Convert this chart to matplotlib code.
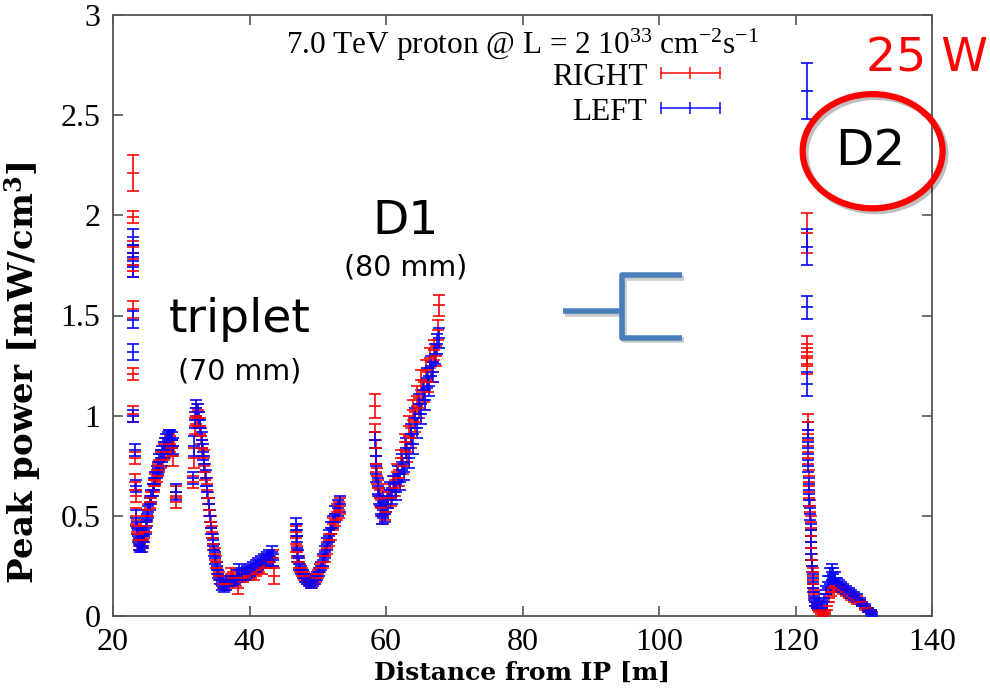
import matplotlib
matplotlib.use("Agg")
import matplotlib.pyplot as plt
from matplotlib.patches import Ellipse
import matplotlib.patheffects as pe

# ---------------- data ----------------
# RIGHT (red)
R_ISO_X = [22.9, 22.9, 22.9, 22.9, 22.9, 22.9, 22.9, 23.0, 23.2, 23.2, 23.3]
R_ISO_Y = [2.21, 1.99, 1.84, 1.78, 1.72, 1.53, 1.21, 1.01, 0.79, 0.67, 0.60]
R_ISO_E = [0.09, 0.03, 0.03, 0.03, 0.03, 0.04, 0.03, 0.04, 0.03, 0.04, 0.03]

R_Q1_X = [23.4, 23.5, 23.6, 23.8, 24.0, 24.2, 24.4, 24.6, 24.8, 25.0, 25.2, 25.4, 25.6, 25.8,
          26.0, 26.2, 26.4, 26.6, 26.8, 27.0, 27.2, 27.4, 27.6, 27.8, 28.0, 28.2, 28.4, 28.6,
          28.8, 29.3, 29.3]
R_Q1_Y = [0.50, 0.45, 0.41, 0.38, 0.36, 0.37, 0.38, 0.42, 0.45, 0.50, 0.53, 0.57, 0.59, 0.63,
          0.65, 0.68, 0.70, 0.73, 0.75, 0.78, 0.79, 0.82, 0.83, 0.85, 0.85, 0.87, 0.86, 0.84,
          0.80, 0.57, 0.62]
R_Q1_E = [0.04, 0.03, 0.03, 0.03, 0.03, 0.03, 0.03, 0.03, 0.03, 0.03, 0.03, 0.03, 0.03, 0.03,
          0.03, 0.03, 0.03, 0.03, 0.03, 0.04, 0.04, 0.04, 0.04, 0.04, 0.04, 0.04, 0.04, 0.04,
          0.05, 0.03, 0.03]

R_Q2_X = [31.7, 31.8, 32.0, 32.1, 32.3, 32.5, 32.7, 32.9, 33.1, 33.3, 33.5, 33.7, 33.9, 34.1,
          34.3, 34.5, 34.7, 34.9, 35.1, 35.3, 35.5, 35.8, 36.1, 36.4, 36.7, 37.0, 37.3, 37.6,
          38.0, 38.3, 38.6, 39.0, 39.4, 39.8, 40.2, 40.6, 41.0, 41.4, 41.8, 42.2, 42.6, 43.0,
          43.4, 43.6]
R_Q2_Y = [0.67, 0.79, 0.95, 1.00, 1.02, 0.99, 0.95, 0.90, 0.84, 0.79, 0.72, 0.66, 0.59, 0.53,
          0.47, 0.42, 0.36, 0.31, 0.27, 0.24, 0.20, 0.18, 0.16, 0.15, 0.16, 0.18, 0.21, 0.19,
          0.17, 0.14, 0.20, 0.19, 0.20, 0.21, 0.22, 0.21, 0.23, 0.25, 0.24, 0.27, 0.28, 0.27,
          0.29, 0.20]
R_Q2_E = [0.03, 0.05, 0.04, 0.04, 0.04, 0.04, 0.04, 0.04, 0.04, 0.04, 0.04, 0.03, 0.03, 0.03,
          0.03, 0.03, 0.03, 0.03, 0.03, 0.03, 0.02, 0.02, 0.02, 0.02, 0.02, 0.02, 0.03, 0.03,
          0.02, 0.03, 0.03, 0.02, 0.02, 0.03, 0.03, 0.03, 0.03, 0.03, 0.03, 0.03, 0.03, 0.03,
          0.04, 0.04]

R_Q3_X = [46.8, 46.8, 46.9, 47.0, 47.2, 47.4, 47.7, 48.0, 48.3, 48.6, 48.9, 49.2, 49.5, 49.8,
          50.1, 50.4, 50.7, 51.0, 51.3, 51.6, 51.9, 52.2, 52.5, 52.8, 53.1, 53.3]
R_Q3_Y = [0.42, 0.36, 0.32, 0.30, 0.27, 0.24, 0.22, 0.20, 0.19, 0.18, 0.17, 0.16, 0.18, 0.19,
          0.21, 0.24, 0.27, 0.30, 0.34, 0.38, 0.41, 0.46, 0.48, 0.52, 0.53, 0.55]
R_Q3_E = [0.03, 0.04, 0.03, 0.03, 0.03, 0.02, 0.02, 0.02, 0.02, 0.02, 0.02, 0.02, 0.02, 0.02,
          0.02, 0.02, 0.03, 0.03, 0.03, 0.03, 0.03, 0.03, 0.03, 0.04, 0.04, 0.04]

R_D1_X = [58.4, 58.4, 58.5, 58.6, 58.7, 58.9, 59.1, 59.3, 59.5, 59.7, 59.9, 60.1, 60.4, 60.7,
          61.0, 61.3, 61.6, 61.9, 62.2, 62.5, 62.8, 63.1, 63.4, 63.7, 64.0, 64.3, 64.6, 64.9,
          65.2, 65.5, 65.8, 66.1, 66.4, 66.7, 67.0, 67.3, 67.6, 67.7]
R_D1_Y = [1.05, 0.92, 0.84, 0.76, 0.70, 0.64, 0.59, 0.54, 0.50, 0.55, 0.52, 0.58, 0.62, 0.59,
          0.66, 0.64, 0.72, 0.69, 0.79, 0.75, 0.87, 0.82, 0.95, 0.89, 1.03, 0.97, 1.10, 1.04,
          1.18, 1.12, 1.23, 1.17, 1.29, 1.22, 1.33, 1.30, 1.43, 1.55]
R_D1_E = [0.06, 0.04, 0.04, 0.04, 0.04, 0.04, 0.04, 0.04, 0.04, 0.04, 0.04, 0.04, 0.04, 0.04,
          0.04, 0.04, 0.04, 0.04, 0.04, 0.04, 0.04, 0.05, 0.05, 0.05, 0.05, 0.05, 0.05, 0.05,
          0.05, 0.05, 0.05, 0.05, 0.05, 0.05, 0.05, 0.05, 0.05, 0.05]

R_D2_X = [121.7, 121.7, 121.7, 121.7, 121.8, 121.85, 121.9, 122.0, 122.05, 122.1, 122.2, 122.25,
          122.3, 122.4, 122.5, 122.6, 122.7, 122.9, 123.1, 123.4, 123.7, 124.0, 124.3, 124.6,
          124.9, 125.2, 125.5, 125.8, 126.1, 126.4, 126.7, 127.0, 127.4, 127.8, 128.2, 128.6,
          129.0, 129.4, 129.8, 130.2, 130.6, 131.0]
R_D2_Y = [1.91, 1.36, 1.30, 1.25, 0.97, 0.88, 0.79, 0.70, 0.62, 0.55, 0.47, 0.40, 0.34, 0.28,
          0.22, 0.16, 0.11, 0.07, 0.05, 0.03, 0.02, 0.01, 0.02, 0.05, 0.09, 0.12, 0.14, 0.15,
          0.15, 0.14, 0.14, 0.13, 0.12, 0.11, 0.10, 0.09, 0.08, 0.07, 0.06, 0.04, 0.03, 0.02]
R_D2_E = [0.10, 0.04, 0.04, 0.04, 0.04, 0.03, 0.03, 0.03, 0.03, 0.03, 0.03, 0.03, 0.03, 0.03,
          0.02, 0.02, 0.02, 0.02, 0.01, 0.01, 0.01, 0.01, 0.01, 0.02, 0.02, 0.02, 0.02, 0.02,
          0.02, 0.02, 0.02, 0.02, 0.02, 0.02, 0.02, 0.02, 0.02, 0.01, 0.01, 0.01, 0.01, 0.01]

# LEFT (blue)
L_ISO_X = [22.9, 22.9, 22.9, 22.9, 22.9, 23.0, 23.2, 23.3]
L_ISO_Y = [1.89, 1.81, 1.74, 1.48, 1.32, 1.00, 0.83, 0.65]
L_ISO_E = [0.04, 0.04, 0.05, 0.04, 0.04, 0.03, 0.03, 0.03]

L_Q1_X = [23.4, 23.5, 23.6, 23.8, 24.0, 24.2, 24.4, 24.6, 24.8, 25.0, 25.2, 25.4, 25.6, 25.8,
          26.0, 26.2, 26.4, 26.6, 26.8, 27.0, 27.2, 27.4, 27.6, 27.8, 28.0, 28.2, 28.4, 28.6,
          28.8, 29.3]
L_Q1_Y = [0.49, 0.44, 0.40, 0.36, 0.35, 0.35, 0.37, 0.40, 0.44, 0.48, 0.52, 0.56, 0.60, 0.63,
          0.66, 0.69, 0.72, 0.74, 0.77, 0.79, 0.81, 0.83, 0.85, 0.87, 0.88, 0.89, 0.89, 0.88,
          0.85, 0.62]
L_Q1_E = [0.04, 0.03, 0.03, 0.03, 0.03, 0.03, 0.03, 0.03, 0.03, 0.03, 0.03, 0.03, 0.03, 0.03,
          0.03, 0.03, 0.03, 0.03, 0.04, 0.04, 0.04, 0.04, 0.04, 0.04, 0.04, 0.04, 0.04, 0.04,
          0.04, 0.04]

L_Q2_X = [31.7, 31.9, 32.0, 32.2, 32.4, 32.6, 32.8, 33.0, 33.2, 33.4, 33.6, 33.8, 34.0, 34.2,
          34.4, 34.6, 34.8, 35.0, 35.2, 35.4, 35.7, 36.0, 36.3, 36.6, 36.9, 37.2, 37.5, 37.9,
          38.2, 38.5, 38.9, 39.3, 39.7, 40.1, 40.5, 40.9, 41.3, 41.7, 42.1, 42.5, 42.9, 43.3,
          43.5]
L_Q2_Y = [0.69, 0.85, 0.98, 1.04, 1.02, 0.98, 0.94, 0.88, 0.82, 0.76, 0.69, 0.62, 0.56, 0.50,
          0.44, 0.38, 0.33, 0.29, 0.25, 0.21, 0.18, 0.15, 0.14, 0.15, 0.17, 0.18, 0.17, 0.18,
          0.20, 0.23, 0.21, 0.21, 0.22, 0.23, 0.24, 0.25, 0.26, 0.27, 0.28, 0.29, 0.30, 0.32,
          0.28]
L_Q2_E = [0.03, 0.05, 0.04, 0.04, 0.04, 0.04, 0.04, 0.04, 0.04, 0.04, 0.04, 0.03, 0.03, 0.03,
          0.03, 0.03, 0.03, 0.03, 0.02, 0.02, 0.02, 0.02, 0.02, 0.02, 0.02, 0.02, 0.02, 0.02,
          0.03, 0.03, 0.03, 0.03, 0.03, 0.03, 0.03, 0.03, 0.03, 0.03, 0.03, 0.03, 0.03, 0.03,
          0.03]

L_Q3_X = [46.8, 46.9, 47.0, 47.1, 47.3, 47.5, 47.8, 48.1, 48.4, 48.7, 49.0, 49.3, 49.6, 49.9,
          50.2, 50.5, 50.8, 51.1, 51.4, 51.7, 52.0, 52.3, 52.6, 52.9, 53.2]
L_Q3_Y = [0.46, 0.43, 0.37, 0.30, 0.26, 0.23, 0.21, 0.19, 0.18, 0.17, 0.16, 0.17, 0.18, 0.20,
          0.22, 0.25, 0.28, 0.32, 0.36, 0.40, 0.44, 0.47, 0.51, 0.54, 0.56]
L_Q3_E = [0.03, 0.03, 0.03, 0.03, 0.03, 0.02, 0.02, 0.02, 0.02, 0.02, 0.02, 0.02, 0.02, 0.02,
          0.02, 0.02, 0.03, 0.03, 0.03, 0.03, 0.03, 0.03, 0.04, 0.04, 0.04]

L_D1_X = [58.4, 58.5, 58.6, 58.8, 59.0, 59.2, 59.4, 59.6, 59.8, 60.0, 60.3, 60.6, 60.9, 61.2,
          61.5, 61.8, 62.1, 62.4, 62.7, 63.0, 63.3, 63.6, 63.9, 64.2, 64.5, 64.8, 65.1, 65.4,
          65.7, 66.0, 66.3, 66.6, 66.9, 67.2, 67.5, 67.7]
L_D1_Y = [0.88, 0.80, 0.71, 0.65, 0.60, 0.55, 0.50, 0.53, 0.51, 0.56, 0.58, 0.63, 0.60, 0.66,
          0.62, 0.71, 0.67, 0.77, 0.72, 0.84, 0.79, 0.91, 0.86, 0.99, 0.94, 1.06, 1.01, 1.13,
          1.08, 1.19, 1.15, 1.25, 1.22, 1.31, 1.36, 1.39]
L_D1_E = [0.04, 0.04, 0.04, 0.04, 0.04, 0.04, 0.04, 0.04, 0.04, 0.04, 0.04, 0.04, 0.04, 0.04,
          0.04, 0.04, 0.04, 0.04, 0.04, 0.05, 0.05, 0.05, 0.05, 0.05, 0.05, 0.05, 0.05, 0.05,
          0.05, 0.05, 0.05, 0.05, 0.05, 0.05, 0.05, 0.05]

L_D2_X = [121.7, 121.7, 121.7, 121.7, 121.8, 121.85, 121.9, 122.0, 122.05, 122.1, 122.2, 122.25,
          122.3, 122.4, 122.5, 122.6, 122.7, 122.9, 123.1, 123.3, 123.6, 123.9, 124.2, 124.5,
          124.8, 125.1, 125.3, 125.5, 125.8, 126.1, 126.4, 126.7, 127.0, 127.4, 127.8, 128.2,
          128.6, 129.0, 129.4, 129.8, 130.2, 130.6, 131.0, 131.2]
L_D2_Y = [2.62, 1.84, 1.54, 1.16, 0.93, 0.84, 0.75, 0.66, 0.58, 0.51, 0.43, 0.37, 0.31, 0.25,
          0.19, 0.14, 0.10, 0.07, 0.05, 0.04, 0.04, 0.06, 0.09, 0.13, 0.17, 0.20, 0.22, 0.21,
          0.19, 0.17, 0.16, 0.15, 0.14, 0.13, 0.12, 0.11, 0.10, 0.09, 0.08, 0.06, 0.05, 0.03,
          0.02, 0.01]
L_D2_E = [0.14, 0.09, 0.055, 0.06, 0.04, 0.03, 0.03, 0.03, 0.03, 0.03, 0.03, 0.03, 0.03, 0.03,
          0.02, 0.02, 0.02, 0.02, 0.01, 0.01, 0.01, 0.02, 0.02, 0.02, 0.03, 0.04, 0.04, 0.03,
          0.03, 0.02, 0.02, 0.02, 0.02, 0.02, 0.02, 0.02, 0.02, 0.02, 0.01, 0.01, 0.01, 0.01,
          0.01, 0.01]

X_TICKS = [20, 40, 60, 80, 100, 120, 140]
Y_TICKS = [0, 0.5, 1, 1.5, 2, 2.5, 3]
Y_TICKLABELS = ["0", "0.5", "1", "1.5", "2", "2.5", "3"]

# ---------------- drawing ----------------
SERIF = ["Liberation Serif", "DejaVu Serif"]
WIDE_SERIF = ["DejaVu Serif"]
SANS = ["DejaVu Sans"]
plt.rcParams["font.family"] = SERIF
plt.rcParams["mathtext.fontset"] = "custom"
plt.rcParams["mathtext.rm"] = "Liberation Serif"
plt.rcParams["mathtext.it"] = "Liberation Serif:italic"
plt.rcParams["mathtext.bf"] = "DejaVu Serif:bold"

fig = plt.figure(figsize=(9.9, 6.88), dpi=100)
ax = fig.add_axes([113 / 990, 1 - 616 / 688, (932 - 113) / 990, (616 - 15) / 688])

def draw(xs, ys, es, color):
    ax.errorbar(xs, ys, yerr=es, fmt="_", color=color, ecolor=color, markersize=8,
                elinewidth=1.3, capsize=4.2, capthick=1.3, mew=1.3, alpha=0.9, zorder=3)

for xs, ys, es in [(R_ISO_X, R_ISO_Y, R_ISO_E), (R_Q1_X, R_Q1_Y, R_Q1_E),
                   (R_Q2_X, R_Q2_Y, R_Q2_E), (R_Q3_X, R_Q3_Y, R_Q3_E),
                   (R_D1_X, R_D1_Y, R_D1_E), (R_D2_X, R_D2_Y, R_D2_E)]:
    draw(xs, ys, es, "#ff0000")
for xs, ys, es in [(L_ISO_X, L_ISO_Y, L_ISO_E), (L_Q1_X, L_Q1_Y, L_Q1_E),
                   (L_Q2_X, L_Q2_Y, L_Q2_E), (L_Q3_X, L_Q3_Y, L_Q3_E),
                   (L_D1_X, L_D1_Y, L_D1_E), (L_D2_X, L_D2_Y, L_D2_E)]:
    draw(xs, ys, es, "#0000ff")

ax.set_xlim(20, 140)
ax.set_ylim(0, 3)
ax.set_xticks(X_TICKS)
ax.set_yticks(Y_TICKS)
ax.set_yticklabels(Y_TICKLABELS)
ax.tick_params(direction="in", length=7, width=1.2, color="#555555", top=True, right=True,
               labelsize=23, pad=9)
for s in ax.spines.values():
    s.set_color("#555555")
    s.set_linewidth(1.3)

ax.set_xlabel("Distance from IP [m]", fontsize=18, fontweight="bold", family=WIDE_SERIF,
              labelpad=2)
ax.set_ylabel(r"Peak power [mW/cm$^{\mathbf{3}}$]", fontsize=24.5, fontweight="bold",
              family=WIDE_SERIF)
ax.yaxis.set_label_coords(-0.085, 0.405)

# header text
ax.text(0.50, 0.950, r"7.0 TeV proton @ L = 2 10$^{33}$ cm$^{-2}$s$^{-1}$",
        transform=ax.transAxes, ha="center", va="center", fontsize=22.5)

# manual gnuplot-style legend
for yy, lab, col in [(0.9035, "RIGHT", "#ff0000"), (0.845, "LEFT", "#0000ff")]:
    ax.text(0.652, yy - 0.007, lab, transform=ax.transAxes, ha="right", va="center",
            fontsize=22.5)
    ax.plot([0.669, 0.741], [yy, yy], transform=ax.transAxes, color=col, lw=1.3, alpha=0.8,
            clip_on=False)
    ax.plot([0.669, 0.705, 0.741], [yy, yy, yy], transform=ax.transAxes, color=col,
            linestyle="none", marker="|", markersize=8, mew=1.3, alpha=0.8, clip_on=False)

# annotations
ax.text(38.6, 1.48, "triplet", ha="center", va="center", fontsize=34, family=SANS)
ax.text(38.5, 1.22, "(70 mm)", ha="center", va="center", fontsize=20.5, family=SANS)
ax.text(62.9, 1.97, "D1", ha="center", va="center", fontsize=34, family=SANS)
ax.text(62.9, 1.74, "(80 mm)", ha="center", va="center", fontsize=20.5, family=SANS)
ax.text(139.3, 2.78, "25 W", ha="center", va="center", fontsize=34, family=SANS,
        color="#ff0000", clip_on=False)
ax.text(131.0, 2.32, "D2", ha="center", va="center", fontsize=36, family=SANS, clip_on=False)
ell = Ellipse((131.3, 2.32), 20.5, 0.57, fill=False, edgecolor="#ff0000", lw=4.5, clip_on=False,
              zorder=5, path_effects=[pe.SimpleLineShadow(offset=(2, -2), alpha=0.25), pe.Normal()])
ax.add_patch(ell)

# bracket sketch
bk = dict(color="#4a7ebb", lw=4, solid_capstyle="butt", clip_on=False,
          path_effects=[pe.SimpleLineShadow(offset=(1.5, -1.5), alpha=0.2), pe.Normal()])
ax.plot([85.9, 94.6], [1.52, 1.52], **bk)
ax.plot([103.4, 94.6, 94.6, 103.4], [1.70, 1.70, 1.39, 1.39], **bk)

fig.savefig("out.png", dpi=100)
